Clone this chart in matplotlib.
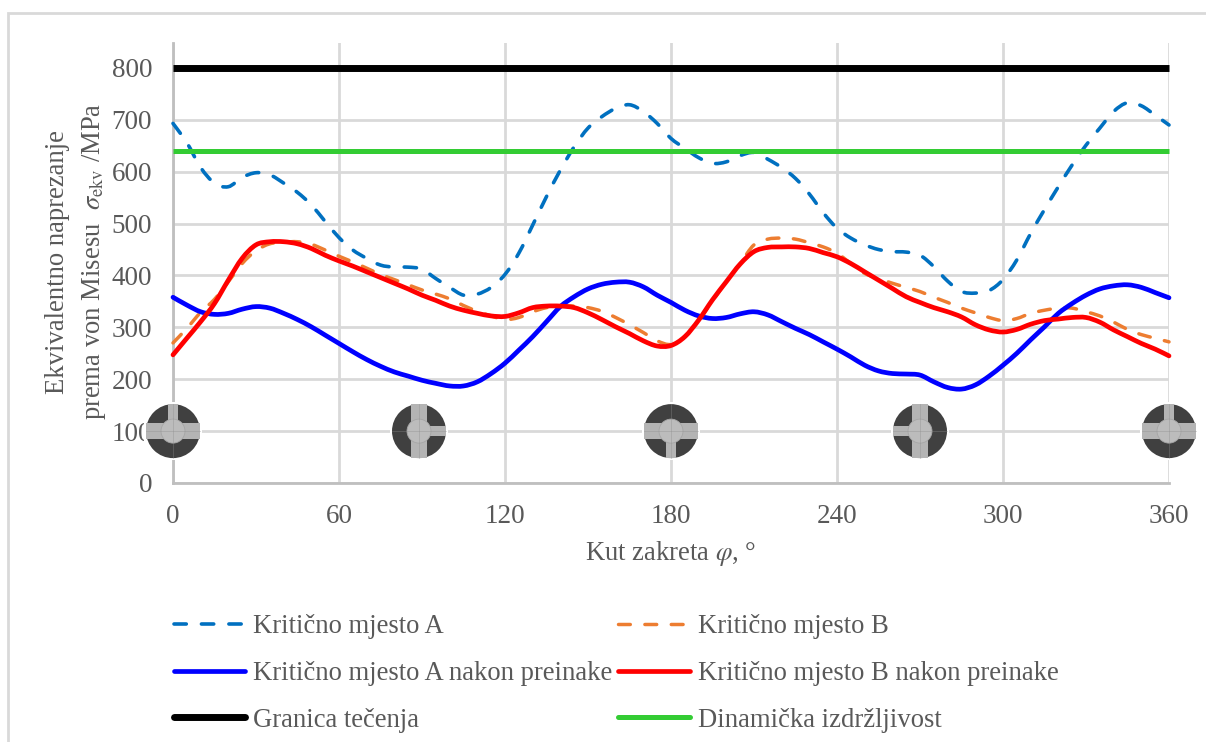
import matplotlib
matplotlib.use("Agg")
import matplotlib.pyplot as plt
from matplotlib.patches import Circle, Rectangle, PathPatch
from matplotlib.path import Path
from matplotlib.lines import Line2D

plt.rcParams['font.family'] = ['Liberation Serif', 'DejaVu Serif']
plt.rcParams['mathtext.fontset'] = 'stix'

phi = list(range(0, 361, 5))
mjesto_a = [693,656,608,578,571,589,598,594,578,560,536,504,473,449,433,420,416,416,412,394,377,362,364,377,402,443,497,552,603,648,684,706,722,729,716,693,664,645,627,616,619,631,637,624,608,587,557,521,491,472,459,450,446,445,439,417,389,369,366,371,392,430,481,527,571,613,651,684,716,733,727,709,690]
mjesto_b = [270,298,329,354,388,423,448,461,464,465,460,449,437,426,414,402,392,382,372,364,355,342,331,322,315,319,330,338,341,341,338,331,319,305,290,274,267,282,314,351,388,423,459,470,472,470,463,455,443,423,404,394,385,377,369,358,348,337,328,319,313,317,327,333,337,337,330,322,310,296,286,279,272]
mjesto_a_nakon = [358,343,330,325,327,335,340,337,327,315,301,285,269,253,238,225,214,206,198,192,187,187,195,211,231,256,282,311,340,359,374,383,387,387,378,362,348,333,322,317,319,326,330,324,311,298,286,272,258,243,227,216,211,210,208,195,184,181,189,206,227,250,276,301,327,346,362,374,380,382,377,367,357]
mjesto_b_nakon = [247,279,311,346,391,433,459,465,465,461,452,439,428,418,407,396,385,374,362,352,341,333,327,322,321,328,338,341,341,338,328,315,301,288,274,264,265,282,314,353,388,422,446,454,455,455,452,444,436,423,407,391,375,359,348,338,330,320,305,295,291,296,306,313,316,319,319,310,295,282,269,258,245]
granica = [800, 800]
dinamicka = [640, 640]
granice_x = [0, 360]
x_ticks = [0, 60, 120, 180, 240, 300, 360]
y_ticks = [0, 100, 200, 300, 400, 500, 600, 700, 800]
ikone_phi = [0, 90, 180, 270, 360]
GRAY = '#595959'

W, H = 1206, 742
fig = plt.figure(figsize=(W/100, H/100), dpi=100)
fig.patches.append(Rectangle((8/W, -0.1), 1.2, 1.1-13/H, transform=fig.transFigure,
                             fill=False, ec='#d9d9d9', lw=2))
ax = fig.add_axes([173/W, 1-483/H, (1169-173)/W, (483-43)/H])
ax.set_xlim(0, 360)
ax.set_ylim(0, 848)
ax.set_xticks(x_ticks)
ax.set_yticks(y_ticks)
ax.grid(True, color='#d9d9d9', lw=2)
ax.set_axisbelow(True)
for s in ('top', 'right'):
    ax.spines[s].set_visible(False)
for s in ('left', 'bottom'):
    ax.spines[s].set_color('#bfbfbf')
    ax.spines[s].set_linewidth(2)
ax.tick_params(length=0, labelsize=19.5, labelcolor=GRAY, pad=15)


def smooth(x, y, **style):
    """Spreadsheet-style smoothed curve through the read values."""
    verts = [(x[0], y[0])]
    n = len(x)
    for i in range(n - 1):
        p0 = (x[max(i-1, 0)], y[max(i-1, 0)])
        p1 = (x[i], y[i])
        p2 = (x[i+1], y[i+1])
        p3 = (x[min(i+2, n-1)], y[min(i+2, n-1)])
        verts.append((p1[0] + (p2[0]-p0[0])/6, p1[1] + (p2[1]-p0[1])/6))
        verts.append((p2[0] - (p3[0]-p1[0])/6, p2[1] - (p3[1]-p1[1])/6))
        verts.append(p2)
    codes = [Path.MOVETO] + [Path.CURVE4] * (3 * (n - 1))
    ax.add_patch(PathPatch(Path(verts, codes), fill=False, clip_on=False, zorder=3, **style))


dash = (0, (3.4, 4.2))
smooth(phi, mjesto_a, edgecolor='#0070c0', lw=2.6, ls=dash, capstyle='round')
smooth(phi, mjesto_b, edgecolor='#ed7d31', lw=2.5, ls=dash, capstyle='round')
smooth(phi, mjesto_a_nakon, edgecolor='#0000ff', lw=3.4, capstyle='round')
smooth(phi, mjesto_b_nakon, edgecolor='#ff0000', lw=3.4, capstyle='round')
ax.plot(granice_x, granica, color='black', lw=5, solid_capstyle='butt', clip_on=False, zorder=3)
ax.plot(granice_x, dinamicka, color='#33cc33', lw=3.6, solid_capstyle='butt', clip_on=False, zorder=3)


def icon(cx, cy, r, ang):
    dark, light = '#404040', '#b4b4b4'
    add = fig.add_artist
    add(Rectangle(((cx-r-2)/W, 1-(cy+r+2)/H), (2*r+4)/W, (2*r+4)/H, transform=fig.transFigure, fc='white', ec='none'))
    add(Circle((cx, H-cy), r, transform=None, fc=dark, ec='none'))
    w = 8
    a = ang % 360
    if a in (0, 180):
        add(Rectangle((cx-r, H-cy-w), 2*r, 2*w, transform=None, fc=light, ec='none'))
    else:
        add(Rectangle((cx-w, H-cy-r), 2*w, 2*r, transform=None, fc=light, ec='none'))
    t = 5
    if a == 0:
        add(Rectangle((cx-t, H-cy), 2*t, r, transform=None, fc=light, ec='none'))
    elif a == 90:
        add(Rectangle((cx, H-cy-t), r, 2*t, transform=None, fc=light, ec='none'))
    elif a == 180:
        add(Rectangle((cx-t, H-cy-r), 2*t, r, transform=None, fc=light, ec='none'))
    else:
        add(Rectangle((cx-r, H-cy-t), r, 2*t, transform=None, fc=light, ec='none'))
    add(Circle((cx, H-cy), 12, transform=None, fc='#bcbcbc', ec='#a6a6a6', lw=0.6))
    for dx, dy in ((r, 0), (0, r)):
        add(Line2D([cx-dx, cx+dx], [H-cy-dy, H-cy+dy], transform=None, color='#8c8c8c', lw=0.5, alpha=.5))


for p in ikone_phi:
    x_disp, y_disp = ax.transData.transform((p, 100))
    icon(x_disp if p != 90 else x_disp-3, H-y_disp, 27, p)

FS = 19.2
fig.text(585/W, 1-553/H, r'Kut zakreta $\varphi$, °', fontsize=FS, color=GRAY, va='center', ha='left')
fig.text(57/W, 1-262/H, 'Ekvivalentno naprezanje', rotation=90, fontsize=FS, color=GRAY, va='center', ha='center')
fig.text(94/W, 1-261/H, r'prema von Misesu  $\sigma_{\mathrm{ekv}}$ /MPa', rotation=90, fontsize=FS, color=GRAY, va='center', ha='center')

handles = [
    Line2D([], [], color='#0070c0', lw=2.6, ls=(0, (3.4, 4.2)), dash_capstyle='round'),
    Line2D([], [], color='#0000ff', lw=3.4, solid_capstyle='round'),
    Line2D([], [], color='black', lw=5, solid_capstyle='round'),
    Line2D([], [], color='#ed7d31', lw=2.5, ls=(0, (3.4, 4.2)), dash_capstyle='round'),
    Line2D([], [], color='#ff0000', lw=3.4, solid_capstyle='round'),
    Line2D([], [], color='#33cc33', lw=3.6, solid_capstyle='round'),
]
labels = ['Kritično mjesto A', 'Kritično mjesto A nakon preinake', 'Granica tečenja',
          'Kritično mjesto B', 'Kritično mjesto B nakon preinake', 'Dinamička izdržljivost']
ax.legend(handles, labels, ncol=2, loc='upper left', bbox_to_anchor=(174/W, 1-614/H), bbox_transform=fig.transFigure,
          frameon=False, fontsize=FS, labelcolor=GRAY, handlelength=2.67, handletextpad=0.3,
          columnspacing=0.22, labelspacing=0.82, borderpad=0, borderaxespad=0)
fig.savefig('out.png', dpi=100)
